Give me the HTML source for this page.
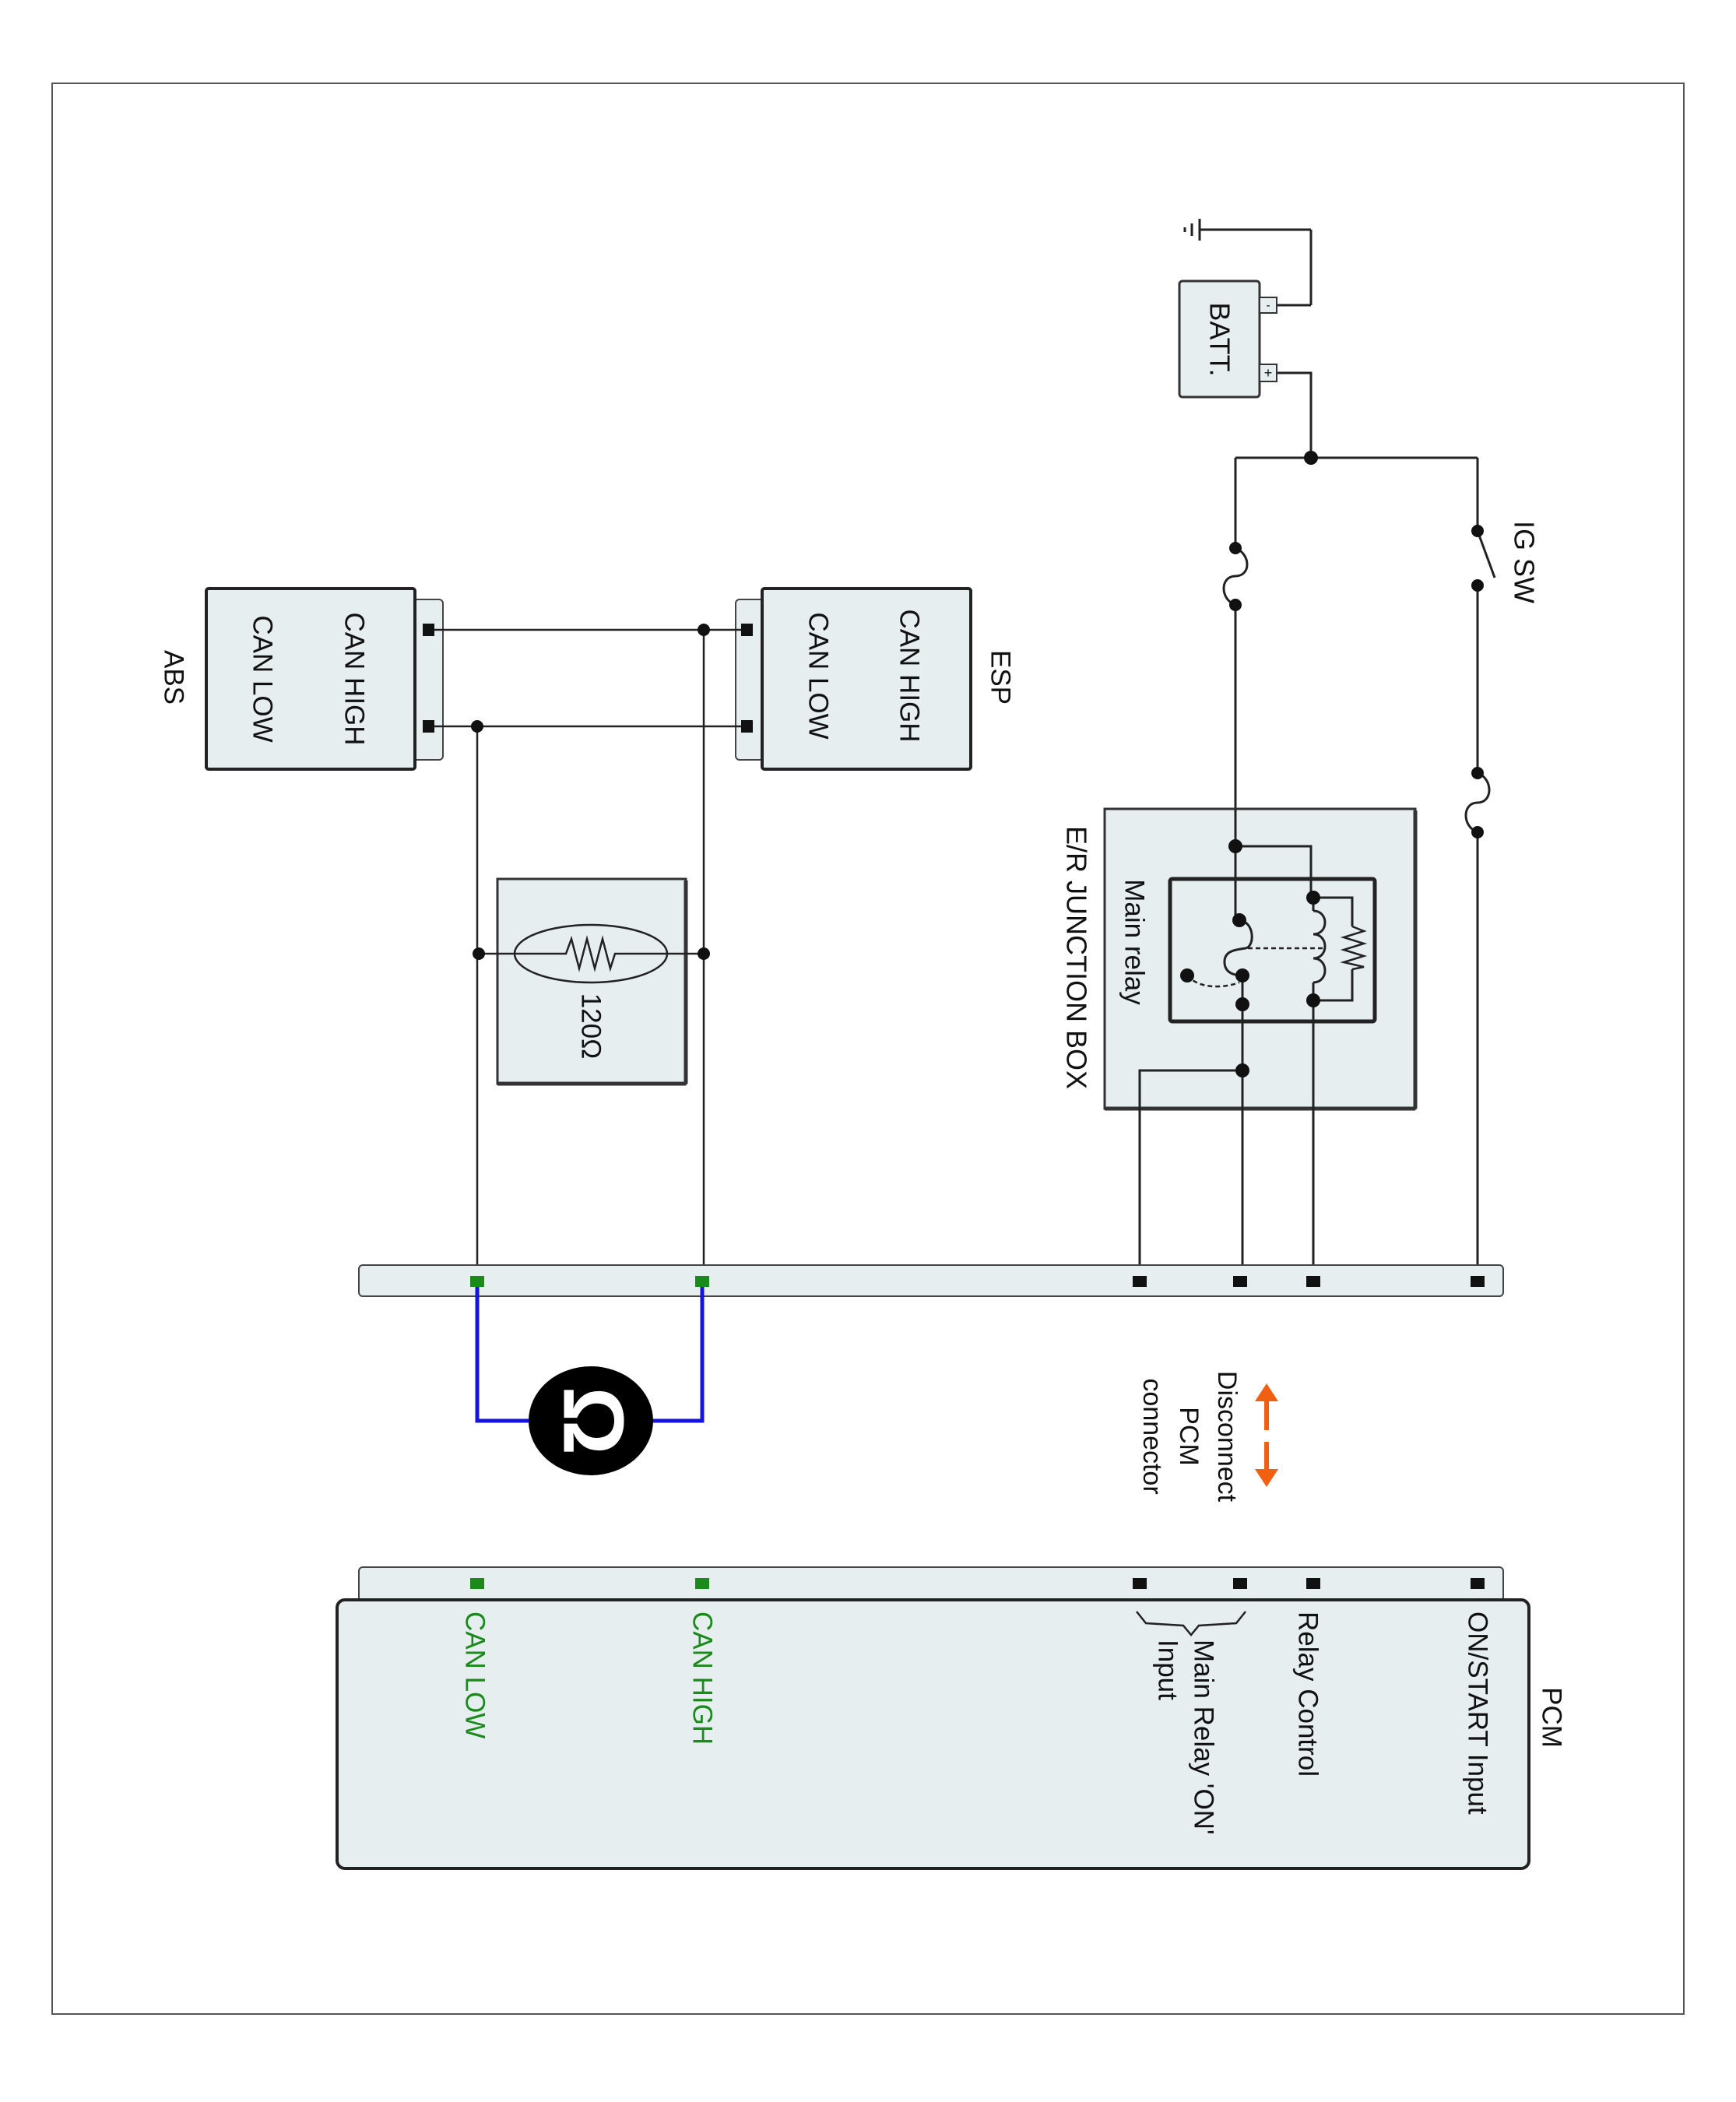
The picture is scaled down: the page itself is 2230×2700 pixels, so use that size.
<!DOCTYPE html>
<html><head><meta charset="utf-8"><style>
html,body{margin:0;padding:0;background:#fff;}
svg{display:block;}
text{font-family:"Liberation Sans",sans-serif;font-size:35px;fill:#111;}
</style></head><body>
<svg width="2230" height="2700" viewBox="0 0 2230 2700" xmlns="http://www.w3.org/2000/svg">
<rect x="67" y="107" width="2096" height="2480" fill="none" stroke="#555" stroke-width="2"/>

<g stroke="#222" stroke-width="3" fill="none">
<line x1="1541" y1="295" x2="1684" y2="295"/>
<line x1="1684" y1="295" x2="1684" y2="392"/>
<line x1="1640" y1="392" x2="1684" y2="392"/>
<line x1="1541" y1="281" x2="1541" y2="309"/>
<line x1="1531" y1="287" x2="1531" y2="303"/>
<line x1="1522" y1="292" x2="1522" y2="298"/>
<polyline points="1640,479 1684,479 1684,588"/>
<line x1="1587" y1="588" x2="1898" y2="588"/>
<line x1="1587" y1="588" x2="1587" y2="704"/>
<path d="M1587,704 C1607,712 1607,740 1587,740 C1567,740 1567,770 1587,777"/>
<line x1="1587" y1="777" x2="1587" y2="1182"/>
<line x1="1898" y1="588" x2="1898" y2="682"/>
<line x1="1898" y1="682" x2="1920" y2="742"/>
<line x1="1898" y1="752" x2="1898" y2="993"/>
<path d="M1898,993 C1918,1000 1918,1031 1898,1031 C1878,1031 1878,1062 1898,1069"/>
<line x1="1898" y1="1069" x2="1898" y2="1646"/>
</g>

<rect x="1515" y="361" width="103" height="149" rx="4" fill="#e6eef0" stroke="#333" stroke-width="3"/>
<rect x="1618" y="382" width="22" height="20" fill="#e6eef0" stroke="#333" stroke-width="2"/>
<rect x="1618" y="468" width="22" height="22" fill="#e6eef0" stroke="#333" stroke-width="2"/>
<text x="1629" y="397" style="font-size:16px" text-anchor="middle">-</text>
<text x="1629" y="485" style="font-size:18px" text-anchor="middle">+</text>
<text transform="translate(1567,436) rotate(90)" text-anchor="middle" dominant-baseline="central" style="font-size:36px">BATT.</text>

<text transform="translate(1958,722) rotate(90)" text-anchor="middle" dominant-baseline="central" style="font-size:36px">IG SW</text>

<rect x="1419" y="1039" width="399" height="385" fill="#e6eef0" stroke="#333" stroke-width="3"/>
<line x1="1818" y1="1041" x2="1818" y2="1424" stroke="#333" stroke-width="5"/>
<line x1="1419" y1="1424" x2="1818" y2="1424" stroke="#333" stroke-width="5"/>
<text transform="translate(1383,1230) rotate(90)" text-anchor="middle" dominant-baseline="central" style="font-size:36px">E/R JUNCTION BOX</text>
<rect x="1503" y="1129" width="263" height="183" rx="3" fill="#e6eef0" stroke="#222" stroke-width="5"/>
<text transform="translate(1457,1210) rotate(90)" text-anchor="middle" dominant-baseline="central">Main relay</text>

<g stroke="#222" stroke-width="3" fill="none">
<line x1="1587" y1="1039" x2="1587" y2="1182"/>
<polyline points="1587,1087 1684,1087 1684,1153"/>
<polyline points="1687,1153 1737,1153 1737,1190"/>
<polyline points="1737,1245 1737,1285 1687,1285"/>
<polyline points="1737,1190 1752,1196 1726,1204 1752,1212 1726,1220 1752,1228 1726,1236 1752,1242 1737,1245" stroke-width="2.5"/>
<path d="M1687,1170 C1707,1170 1707,1200 1687,1200 C1707,1200 1707,1231 1687,1231 C1707,1231 1707,1262 1687,1262"/>
<line x1="1687" y1="1153" x2="1687" y2="1170"/>
<line x1="1687" y1="1262" x2="1687" y2="1285"/>
<path d="M1592,1182 C1612,1184 1612,1216 1600,1218 C1585,1220 1572,1222 1573,1237 C1574,1252 1590,1253 1596,1253"/>
<line x1="1603" y1="1218" x2="1700" y2="1218" stroke-dasharray="6,4" stroke-width="2.5"/>
<path d="M1525,1253 C1540,1270 1570,1270 1592,1262" stroke-dasharray="6,4" stroke-width="2.5"/>
<line x1="1596" y1="1253" x2="1596" y2="1646"/>
<line x1="1687" y1="1285" x2="1687" y2="1646"/>
<polyline points="1596,1375 1464,1375 1464,1646"/>
</g>
<g fill="#111">
<circle cx="1684" cy="588" r="9"/>
<circle cx="1587" cy="704" r="8"/><circle cx="1587" cy="777" r="8"/>
<circle cx="1898" cy="682" r="8"/><circle cx="1898" cy="752" r="8"/>
<circle cx="1898" cy="993" r="8"/><circle cx="1898" cy="1069" r="8"/>
<circle cx="1587" cy="1087" r="9"/>
<circle cx="1592" cy="1182" r="9"/><circle cx="1596" cy="1253" r="9"/>
<circle cx="1525" cy="1253" r="9"/><circle cx="1596" cy="1290" r="9"/>
<circle cx="1687" cy="1153" r="9"/><circle cx="1687" cy="1285" r="9"/>
<circle cx="1596" cy="1375" r="9"/>
</g>

<rect x="945" y="770" width="40" height="206" rx="5" fill="#e6eef0" stroke="#444" stroke-width="2"/>
<rect x="979" y="756" width="268" height="232" rx="3" fill="#e6eef0" stroke="#222" stroke-width="4"/>
<text transform="translate(1168,868) rotate(90)" text-anchor="middle" dominant-baseline="central">CAN HIGH</text>
<text transform="translate(1051,868) rotate(90)" text-anchor="middle" dominant-baseline="central">CAN LOW</text>
<text transform="translate(1285,870) rotate(90)" text-anchor="middle" dominant-baseline="central">ESP</text>
<rect x="527" y="770" width="42" height="206" rx="5" fill="#e6eef0" stroke="#444" stroke-width="2"/>
<rect x="265" y="756" width="268" height="232" rx="3" fill="#e6eef0" stroke="#222" stroke-width="4"/>
<text transform="translate(455,872) rotate(90)" text-anchor="middle" dominant-baseline="central">CAN HIGH</text>
<text transform="translate(337,872) rotate(90)" text-anchor="middle" dominant-baseline="central">CAN LOW</text>
<text transform="translate(223,870) rotate(90)" text-anchor="middle" dominant-baseline="central">ABS</text>

<g stroke="#222" stroke-width="2.5" fill="none">
<line x1="550" y1="809" x2="959" y2="809"/>
<line x1="550" y1="933" x2="959" y2="933"/>
<line x1="904" y1="809" x2="904" y2="1646"/>
<line x1="613" y1="933" x2="613" y2="1646"/>
</g>
<g fill="#111">
<rect x="952" y="801" width="15" height="16"/><rect x="952" y="925" width="15" height="16"/>
<rect x="543" y="801" width="15" height="16"/><rect x="543" y="925" width="15" height="16"/>
<circle cx="904" cy="809" r="8"/><circle cx="613" cy="933" r="8"/>
</g>

<rect x="639" y="1129" width="242" height="263" fill="#e6eef0" stroke="#333" stroke-width="3"/>
<line x1="881" y1="1131" x2="881" y2="1392" stroke="#333" stroke-width="5"/>
<line x1="639" y1="1392" x2="881" y2="1392" stroke="#333" stroke-width="5"/>
<ellipse cx="759" cy="1225" rx="98" ry="37" fill="none" stroke="#222" stroke-width="2.5"/>
<polyline points="613,1225 727,1225 734,1206 744,1244 754,1206 764,1244 774,1206 784,1244 790,1225 904,1225" fill="none" stroke="#222" stroke-width="2.5"/>
<circle cx="615" cy="1225" r="8" fill="#111"/><circle cx="904" cy="1225" r="8" fill="#111"/>
<text transform="translate(759,1318) rotate(90)" text-anchor="middle" dominant-baseline="central">120Ω</text>

<rect x="461" y="1625" width="1470" height="40" rx="5" fill="#e6eef0" stroke="#444" stroke-width="2"/>
<g fill="#111">
<rect x="1455" y="1639" width="18" height="14"/><rect x="1584" y="1639" width="18" height="14"/>
<rect x="1678" y="1639" width="18" height="14"/><rect x="1889" y="1639" width="18" height="14"/>
</g>
<polyline points="613,1646 613,1825 700,1825" fill="none" stroke="#1414e0" stroke-width="5"/>
<polyline points="902,1646 902,1825 820,1825" fill="none" stroke="#1414e0" stroke-width="5"/>
<g fill="#1a8a1a">
<rect x="604" y="1639" width="18" height="14"/><rect x="893" y="1639" width="18" height="14"/>
</g>
<ellipse cx="759" cy="1825" rx="80" ry="70" fill="#000"/>
<text transform="translate(762,1825) rotate(90)" text-anchor="middle" dominant-baseline="central" style="font-size:110px;font-weight:bold;fill:#fff">Ω</text>

<g stroke="#f06010" stroke-width="6" fill="#f06010">
<line x1="1627" y1="1795" x2="1627" y2="1837"/>
<line x1="1627" y1="1852" x2="1627" y2="1893"/>
<polygon points="1627,1777 1612,1800 1642,1800" stroke="none"/>
<polygon points="1627,1910 1612,1887 1642,1887" stroke="none"/>
</g>
<text transform="translate(1576,1845) rotate(90)" text-anchor="middle" dominant-baseline="central" style="font-size:34px">Disconnect</text>
<text transform="translate(1527,1845) rotate(90)" text-anchor="middle" dominant-baseline="central" style="font-size:34px">PCM</text>
<text transform="translate(1480,1845) rotate(90)" text-anchor="middle" dominant-baseline="central" style="font-size:34px">connector</text>

<rect x="461" y="2013" width="1470" height="50" rx="5" fill="#e6eef0" stroke="#444" stroke-width="2"/>
<rect x="433" y="2055" width="1531" height="345" rx="10" fill="#e6eef0" stroke="#222" stroke-width="4"/>
<g fill="#111">
<rect x="1455" y="2027" width="18" height="14"/><rect x="1584" y="2027" width="18" height="14"/>
<rect x="1678" y="2027" width="18" height="14"/><rect x="1889" y="2027" width="18" height="14"/>
</g>
<g fill="#1a8a1a">
<rect x="604" y="2027" width="18" height="14"/><rect x="893" y="2027" width="18" height="14"/>
</g>
<text transform="translate(1993,2206) rotate(90)" text-anchor="middle" dominant-baseline="central">PCM</text>
<text transform="translate(1898,2070) rotate(90)" dominant-baseline="central">ON/START Input</text>
<text transform="translate(1680,2070) rotate(90)" dominant-baseline="central">Relay Control</text>
<text transform="translate(1546,2106) rotate(90)" dominant-baseline="central">Main Relay 'ON'</text>
<text transform="translate(1500,2106) rotate(90)" dominant-baseline="central">Input</text>
<text transform="translate(902,2070) rotate(90)" dominant-baseline="central" style="fill:#1a8a1a">CAN HIGH</text>
<text transform="translate(610,2070) rotate(90)" dominant-baseline="central" style="fill:#1a8a1a">CAN LOW</text>
<path d="M1600,2070 L1588,2085 L1540,2088 L1530,2100 L1520,2088 L1472,2085 L1460,2070" fill="none" stroke="#222" stroke-width="2.5"/>
</svg>
</body></html>
